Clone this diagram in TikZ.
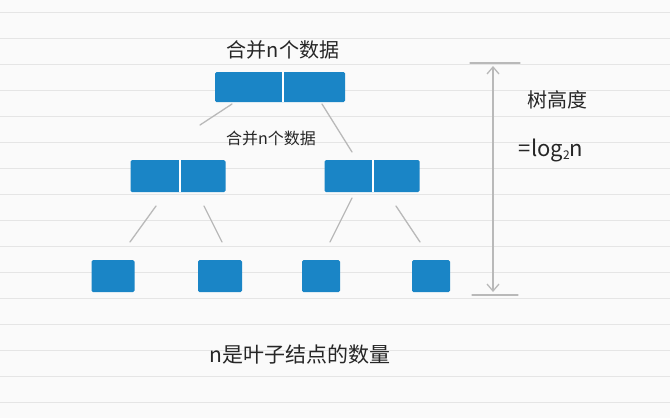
\documentclass[tikz,border=0pt]{standalone}
\usepackage{fontspec}
\usetikzlibrary{arrows.meta}
\newfontfamily\cjk{Noto Sans CJK SC}
\begin{document}
\begin{tikzpicture}[x=1pt,y=-1pt,
  blk/.style={fill=bluebox, draw=none, rounded corners=1.5pt},
  conn/.style={draw=gray!55, line width=1.3pt, line cap=round},
  lbl/.style={font=\cjk\fontsize{14}{16}\selectfont, text=black!85},
  div/.style={draw=white, line width=1.3pt}]
\definecolor{bluebox}{HTML}{1A85C6}
\fill[white!96!gray] (0,0) rectangle (670,418);
\useasboundingbox (0,0) rectangle (670,418);
\foreach \y in {12,38,64,90,116,142,168,194,220,246,272,298,324,350,376,402}
  \draw[black!10, line width=0.8pt] (0,\y) -- (670,\y);
% boxes
\node[blk, minimum width=130, minimum height=30] (top) at (280,87) {};
\node[blk, minimum width=95, minimum height=32] (ml) at (178,176) {};
\node[blk, minimum width=95, minimum height=32] (mr) at (372,176) {};
\node[blk, minimum width=43, minimum height=32] (l1) at (113,276) {};
\node[blk, minimum width=44, minimum height=32] (l2) at (220,276) {};
\node[blk, minimum width=38, minimum height=32] (l3) at (321,276) {};
\node[blk, minimum width=38, minimum height=32] (l4) at (431,276) {};
\draw[div] ([xshift=3]top.north) -- ([xshift=3]top.south);
\draw[div] ([xshift=2]ml.north) -- ([xshift=2]ml.south);
\draw[div] ([xshift=1]mr.north) -- ([xshift=1]mr.south);
% connectors
\coordinate (a1) at (232,104); \coordinate (a2) at (200,125);
\coordinate (b1) at (322,104); \coordinate (b2) at (352,152);
\draw[conn] (a1) -- (a2); \draw[conn] (b1) -- (b2);
\coordinate (c1) at (156,206); \coordinate (c2) at (130,242);
\coordinate (d1) at (204,206); \coordinate (d2) at (222,242);
\coordinate (e1) at (352,198); \coordinate (e2) at (330,242);
\coordinate (f1) at (396,206); \coordinate (f2) at (420,242);
\draw[conn] (c1) -- (c2); \draw[conn] (d1) -- (d2);
\draw[conn] (e1) -- (e2); \draw[conn] (f1) -- (f2);
% height arrow
\coordinate (t1) at (470,63); \coordinate (t2) at (520,63);
\coordinate (u1) at (472,295); \coordinate (u2) at (518,295);
\draw[conn] (t1) -- (t2); \draw[conn] (u1) -- (u2);
\coordinate (h1) at (493,66); \coordinate (h2) at (493,292);
\draw[conn, {Straight Barb[length=7pt,width=12pt]}-{Straight Barb[length=7pt,width=12pt]}] (h1) -- (h2);
% text
\node[lbl, font=\cjk\fontsize{20}{22}\selectfont] (t) at (283,50) {合并n个数据};
\node[lbl, font=\cjk\fontsize{16}{18}\selectfont] (t2l) at (271,138) {合并n个数据};
\node[lbl, font=\cjk\fontsize{20}{22}\selectfont] (h) at (557,100) {树高度};
\node[lbl, font=\cjk\fontsize{22}{24}\selectfont] (lg) at (551,150) {=log\raisebox{-3pt}{\fontsize{12}{12}\selectfont 2}n};
\node[lbl, font=\cjk\fontsize{21}{24}\selectfont] (bt) at (300,355) {n是叶子结点的数量};
\end{tikzpicture}
\end{document}
